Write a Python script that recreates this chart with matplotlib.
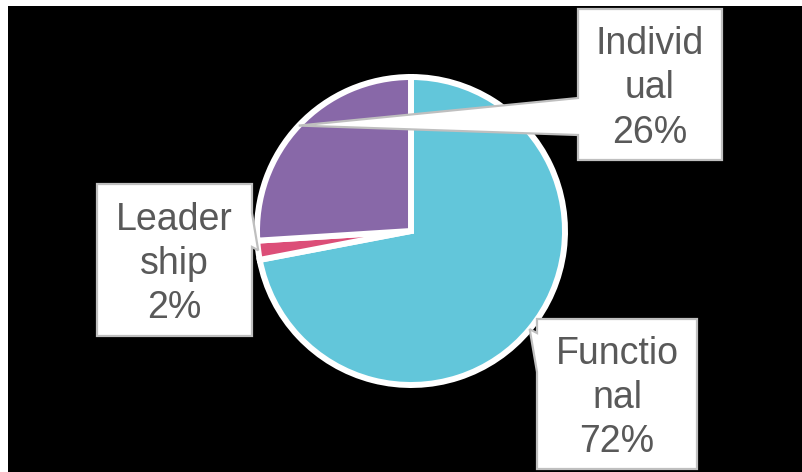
import matplotlib
matplotlib.use("Agg")
import matplotlib.pyplot as plt
from matplotlib.patches import Polygon, Rectangle
import numpy as np

W, H = 802, 472

categories = ["Functio\nnal", "Leader\nship", "Individ\nual"]
values = [72, 2, 26]
colors = ["#62C6DA", "#DC4E78", "#8868A8"]

# label boxes in pixel coords: (left, top, right, bottom), pointer side, pointer base (y0, y1)
boxes = [
    ((537, 319, 697, 469), "left", (333, 372)),
    ((97, 184, 252, 336), "right", (213, 247)),
    ((578, 9, 722, 160), "left", (98, 135)),
]

fig = plt.figure(figsize=(W / 100, H / 100), dpi=100)
fig.patch.set_facecolor("white")
ax = fig.add_axes([0, 0, 1, 1])

# black plot area (white strip on top and left)
ax.add_patch(Rectangle((8, 0), W - 8, H - 6, facecolor="black", edgecolor="none", zorder=0))

cx, cy, r = 411, H - 231, 154
wedges, _ = ax.pie(values, colors=colors, startangle=90, counterclock=False,
                   center=(cx, cy), radius=r, frame=True,
                   wedgeprops=dict(edgecolor="white", linewidth=4.3))
for w in wedges:
    w.set_zorder(2)
ax.set_xlim(0, W)
ax.set_ylim(0, H)
ax.set_aspect("auto")
ax.axis("off")


def callout(box, side, base, tip, text):
    l, t, rr, b = box
    t, b = H - t, H - b
    y0, y1 = H - base[0], H - base[1]
    if side == "left":
        pts = [(l, t), (rr, t), (rr, b), (l, b), (l, y1), tip, (l, y0)]
    else:
        pts = [(l, t), (rr, t), (rr, y0), tip, (rr, y1), (rr, b), (l, b)]
    ax.add_patch(Polygon(pts, closed=True, facecolor="white", edgecolor="#BFBFBF",
                         linewidth=1.6, zorder=3))
    ax.text((l + rr) / 2, (t + b) / 2 - 4, text, ha="center", va="center",
            fontsize=27, color="#595959", family="Liberation Sans",
            linespacing=1.3, zorder=4)


for w, cat, v, (box, side, base) in zip(wedges, categories, values, boxes):
    mid = np.deg2rad((w.theta1 + w.theta2) / 2)
    tip = (w.center[0] + w.r * np.cos(mid), w.center[1] + w.r * np.sin(mid))
    callout(box, side, base, tip, f"{cat}\n{v}%")

fig.savefig("out.png", dpi=100, facecolor=fig.get_facecolor())
